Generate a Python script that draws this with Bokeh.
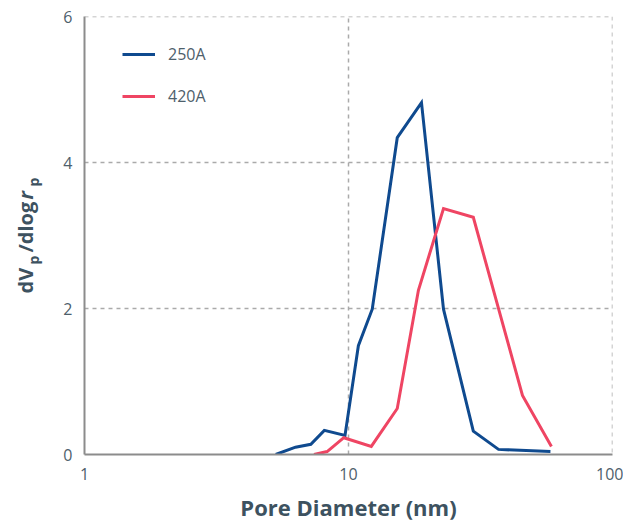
import math
from bokeh.plotting import figure
from bokeh.layouts import row, column
from bokeh.models import FixedTicker, Legend, LegendItem, Span
from bokeh.core.properties import value
from bokeh.embed import file_html
from bokeh.resources import INLINE

# Data
x_250 = [5.3, 6.3, 7.2, 8.1, 9.7, 10.9, 12.3, 15.3, 18.9, 22.9, 29.7, 37.0, 58.2]
y_250 = [0.0, 0.1, 0.14, 0.33, 0.26, 1.49, 1.99, 4.34, 4.82, 1.99, 0.32, 0.07, 0.04]
x_420 = [7.4, 8.3, 9.6, 12.2, 15.3, 18.4, 22.9, 29.7, 45.6, 58.7]
y_420 = [0.0, 0.04, 0.23, 0.11, 0.63, 2.25, 3.37, 3.25, 0.81, 0.11]
series_names = ["250A", "420A"]
x_ticks = [1, 10, 100]
y_ticks = [0, 2, 4, 6]
x_title = "Pore Diameter (nm)"

BLUE = "#0f4a8f"
RED = "#ef4563"
TICK_COLOR = "#4e606b"
TITLE_COLOR = "#3d5260"
FONT = "Open Sans"
TOP_H = 490      # height of the plot row
STRIP_H = 30     # height of the x-title strip
LW = 48          # width of the y-title strip
W = 575

p = figure(width=W, height=TOP_H, x_axis_type="log",
           x_range=(1, 100), y_range=(0, 6),
           output_backend="svg", toolbar_location=None,
           min_border_left=84 - LW, min_border_top=16, min_border_right=11,
           min_border_bottom=36)
p.outline_line_color = None
p.background_fill_color = "white"

l1 = p.line(x_250, y_250, line_color=BLUE, line_width=3, line_join="miter")
l2 = p.line(x_420, y_420, line_color=RED, line_width=3, line_join="miter")

# axes
for ax in (p.xaxis[0], p.yaxis[0]):
    ax.axis_line_color = "#8c8c8c"
    ax.axis_line_width = 2
    ax.major_tick_line_color = None
    ax.minor_tick_line_color = None
    ax.major_tick_out = 0
    ax.major_tick_in = 0
    ax.minor_tick_out = 0
    ax.minor_tick_in = 0
    ax.major_label_text_font = FONT
    ax.major_label_text_font_size = "16px"
    ax.major_label_text_color = TICK_COLOR
    ax.major_label_standoff = 12

p.xaxis.major_label_standoff = 13
p.xaxis.ticker = FixedTicker(ticks=x_ticks)
p.xaxis.major_label_overrides = {t: str(t) for t in x_ticks}
p.yaxis.ticker = FixedTicker(ticks=y_ticks)

# grid
p.xgrid.ticker = FixedTicker(ticks=[10])
p.ygrid.ticker = FixedTicker(ticks=[2, 4])
for g in (p.xgrid[0], p.ygrid[0]):
    g.grid_line_color = "#aaaaaa"
    g.grid_line_dash = "4 4"
    g.grid_line_width = 1.5
p.add_layout(Span(location=6, dimension="width", line_color="#aaaaaa",
                  line_dash="4 4", line_width=1.5))
p.add_layout(Span(location=100, dimension="height", line_color="#aaaaaa",
                  line_dash="4 4", line_width=1.5))

# legend
legend = Legend(items=[LegendItem(label=series_names[0], renderers=[l1]),
                       LegendItem(label=series_names[1], renderers=[l2])],
                location=(38, 347), margin=0, padding=0, spacing=20,
                glyph_width=33, glyph_height=20, label_height=20,
                label_standoff=13, border_line_color=None,
                background_fill_alpha=0,
                label_text_font=FONT, label_text_font_size="16px",
                label_text_color=TICK_COLOR)
p.add_layout(legend)

# y-axis title strip: shares the y range of the plot (frame 16..454 px -> 6..0)
lab = figure(width=LW, height=TOP_H, x_range=(0, LW), y_range=p.y_range,
             output_backend="svg", toolbar_location=None, min_border=0,
             min_border_top=16, min_border_bottom=36)
lab.axis.visible = False
lab.grid.visible = False
lab.outline_line_color = None

def yd(py):
    return (454 - py) / 73.0

pieces = [
    ("dV", 24.5, 293, "20px", "bold"),
    ("p", 33, 264, "14px", "bold"),
    ("/dlog", 24.5, 252, "20px", "bold"),
    ("r", 24.5, 199, "20px", "bold italic"),
    ("p", 33, 186, "14px", "bold"),
]
for txt, px, py, fs, st in pieces:
    lab.text(x=[px], y=[yd(py)], text=[txt], angle=math.pi / 2,
             text_align="left", text_baseline="alphabetic",
             text_font=value(FONT), text_font_size=value(fs),
             text_font_style=value(st), text_color=TITLE_COLOR)

# x-axis title strip: same horizontal frame as the plot
strip = figure(width=LW + W, height=STRIP_H, x_axis_type="log",
               x_range=p.x_range, y_range=(0, STRIP_H),
               output_backend="svg", toolbar_location=None, min_border=0,
               min_border_left=84, min_border_right=11)
strip.axis.visible = False
strip.grid.visible = False
strip.outline_line_color = None
strip.text(x=[10], y=[14], text=[x_title], text_align="center",
           text_baseline="alphabetic", text_font=value(FONT),
           text_font_size=value("22px"), text_font_style=value("bold"),
           text_color=TITLE_COLOR)

layout = column(row(lab, p), strip)
open("out.html", "w").write(file_html(layout, INLINE))
